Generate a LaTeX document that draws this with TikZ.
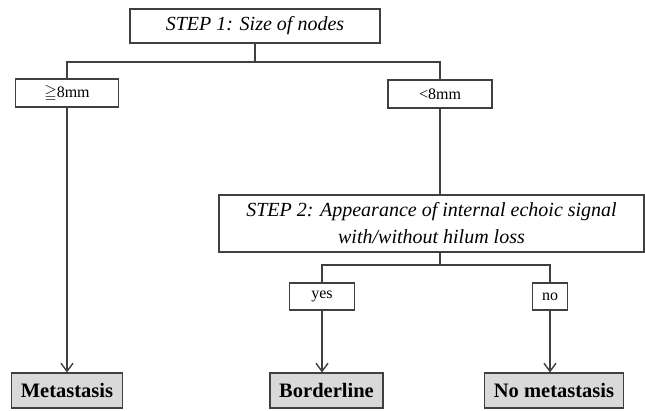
\documentclass[tikz,border=0pt]{standalone}
\usepackage{amsmath,amssymb}
\usepackage{fontspec}
\setmainfont{Liberation Serif}
\usetikzlibrary{arrows.meta}

\begin{document}
\begin{tikzpicture}[x=1pt,y=-1pt,
    line width=1.1pt, draw=black!75,
    stepbox/.style={draw, inner sep=0pt, align=center, font=\fontsize{20}{27}\selectfont\itshape},
    choicebox/.style={draw, inner sep=0pt, minimum height=28pt, font=\fontsize{16}{18}\selectfont},
    resultbox/.style={draw, fill=black!15, inner sep=0pt, minimum height=35pt, font=\fontsize{20.5}{24}\selectfont\bfseries},
    arr/.style={-{Straight Barb[length=8pt,width=12pt,line width=1.4pt]}}]

          \useasboundingbox (0,0) rectangle (645,410);

          \node[stepbox, minimum width=250pt, minimum height=34pt] (step1) at (255,26) {STEP 1: Size of nodes};

          \node[choicebox, minimum width=103pt] (ge) at (67,93) {$\geqq$8mm};
          \node[choicebox, minimum width=104pt] (lt) at (440,94) {<8mm};

          \node[stepbox, minimum width=425pt, minimum height=57pt] (step2) at (431.5,223.5)
            {STEP 2: Appearance of internal echoic signal\\with/without hilum loss};

          \node[choicebox, minimum width=65pt, minimum height=27pt] (yes) at (322,296.5) {yes};
          \node[choicebox, minimum width=35pt, minimum height=27pt] (no) at (550,296.5) {no};

          \node[resultbox, minimum width=111pt] (meta) at (67,390.5) {Metastasis};
          \node[resultbox, minimum width=113pt] (border) at (326.5,390.5) {Borderline};
          \node[resultbox, minimum width=139pt] (nometa) at (554,390.5) {No metastasis};

          \coordinate (split1) at (255,62);
          \coordinate (split2) at (440,265);

          \draw (step1) -- (split1);
          \draw (ge.north) |- (split1) -| (lt.north);
          \draw (lt.south) -- (lt.south |- step2.north);

          \draw (step2.south -| split2) -- (split2);
          \draw (yes.north) |- (split2) -| (no.north);

          \draw[arr] (ge.south) -- (ge.south |- meta.north);
          \draw[arr] (yes.south) -- (yes.south |- border.north);
          \draw[arr] (no.south) -- (no.south |- nometa.north);

\end{tikzpicture}
\end{document}
